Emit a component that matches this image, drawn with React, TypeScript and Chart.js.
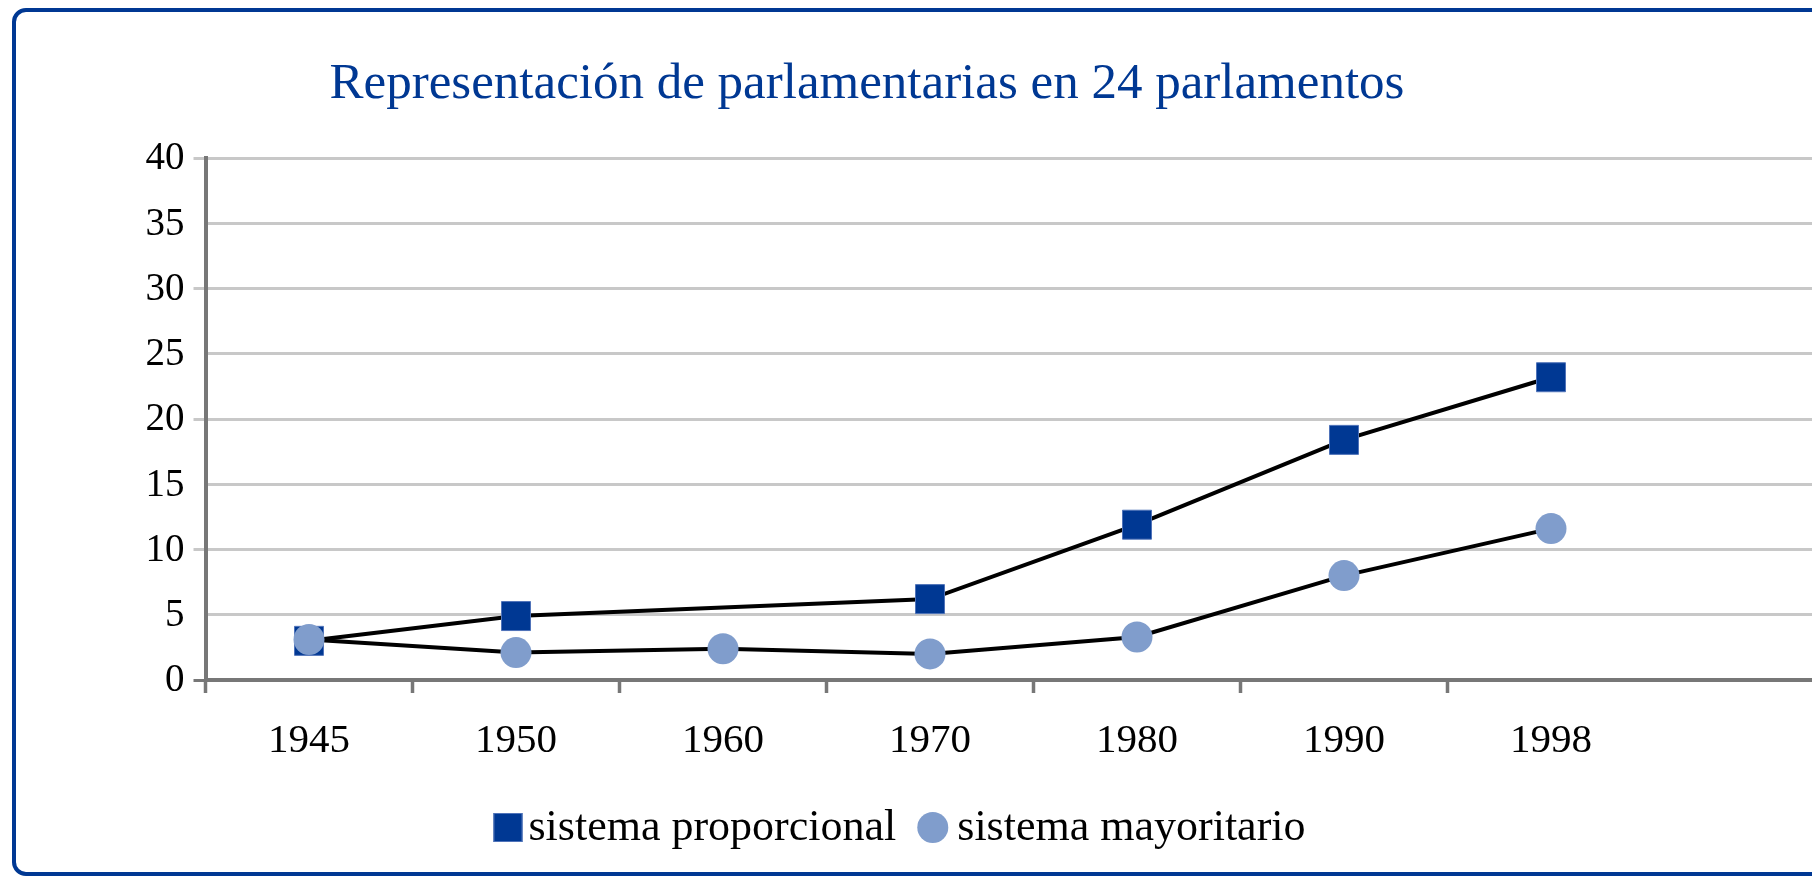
import React, { useEffect, useRef } from 'react';
import { Chart, registerables } from 'chart.js';

Chart.register(...registerables);

const TITLE = 'Representación de parlamentarias en 24 parlamentos';
const YEARS = ['1945', '1950', '1960', '1970', '1980', '1990', '1998', ''];
const PROPORCIONAL = [3.0, 4.9, null, 6.2, 11.9, 18.4, 23.2, null];
const MAYORITARIO = [3.1, 2.1, 2.4, 2.0, 3.3, 8.0, 11.6, null];
const SERIES_NAMES = ['sistema proporcional', 'sistema mayoritario'];
const Y_MIN = 0;
const Y_MAX = 40;
const Y_STEP = 5;

const BLUE = '#003893';
const LIGHT_BLUE = '#809dcc';
const AXIS_GRAY = '#777777';
const GRID_GRAY = '#c8c8c8';
const CANVAS_W = 1950;
const CANVAS_H = 876;

const headerLegend = {
  id: 'headerLegend',
  afterDraw(chart: any) {
    const ctx = chart.ctx as CanvasRenderingContext2D;
    ctx.save();
    // title
    ctx.fillStyle = BLUE;
    ctx.font = '51px "Liberation Serif"';
    ctx.textAlign = 'center';
    ctx.textBaseline = 'alphabetic';
    ctx.fillText(TITLE, 867, 98);

    // legend
    const ds = chart.data.datasets;
    ctx.font = '44px "Liberation Serif"';
    ctx.textAlign = 'left';
    const marker = 29;
    const gaps = [6, 10];
    const gapItem = 22;
    const widths = ds.map((d: any) => ctx.measureText(d.label).width);
    const total =
      widths.reduce((a: number, w: number, i: number) => a + marker + gaps[i] + w, 0) + gapItem * (ds.length - 1);
    let x = 899.5 - total / 2;
    const cy = 827.5;
    const baseline = 840;
    ds.forEach((d: any, i: number) => {
      if (d.pointStyle === 'rect') {
        ctx.fillStyle = d.pointBackgroundColor;
        ctx.fillRect(x, cy - marker / 2, marker, marker);
        ctx.strokeStyle = d.pointBorderColor;
        ctx.lineWidth = 1;
        ctx.strokeRect(x + 0.5, cy - marker / 2 + 0.5, marker - 1, marker - 1);
      } else {
        ctx.fillStyle = d.pointBackgroundColor;
        ctx.beginPath();
        ctx.arc(x + marker / 2, cy, marker / 2 + 1, 0, Math.PI * 2);
        ctx.fill();
      }
      x += marker + gaps[i];
      ctx.fillStyle = '#000';
      ctx.fillText(d.label, x, baseline);
      x += widths[i] + gapItem;
    });
    ctx.restore();
  },
};

export default function App() {
  const ref = useRef<HTMLCanvasElement>(null);

  useEffect(() => {
    const canvas = ref.current;
    if (!canvas) return;
    const chart = new Chart(canvas, {
      type: 'line',
      data: {
        labels: YEARS,
        datasets: [
          {
            label: SERIES_NAMES[0],
            data: PROPORCIONAL,
            borderColor: '#000000',
            borderWidth: 4,
            pointStyle: 'rect',
            pointRadius: 20.5,
            pointHoverRadius: 20.5,
            pointBackgroundColor: BLUE,
            pointBorderColor: '#4f73b9',
            pointBorderWidth: 1,
            spanGaps: true,
            tension: 0,
            fill: false,
            order: 1,
          } as any,
          {
            label: SERIES_NAMES[1],
            data: MAYORITARIO,
            borderColor: '#000000',
            borderWidth: 4,
            pointStyle: 'circle',
            pointRadius: 15.5,
            pointHoverRadius: 15.5,
            pointBackgroundColor: LIGHT_BLUE,
            pointBorderColor: LIGHT_BLUE,
            pointBorderWidth: 0,
            spanGaps: true,
            tension: 0,
            fill: false,
            order: 0,
          } as any,
        ],
      },
      options: {
        responsive: false,
        animation: false,
        devicePixelRatio: 1,
        layout: {
          padding: { top: 158, bottom: CANVAS_H - 680 - 100, left: 0, right: CANVAS_W - 1861.5 },
        },
        plugins: {
          legend: { display: false },
          title: { display: false },
          tooltip: { enabled: false },
        },
        scales: {
          x: {
            type: 'category',
            offset: true,
            grid: {
              display: true,
              drawOnChartArea: false,
              drawTicks: true,
              offset: true,
              tickLength: 13,
              tickWidth: 3.5,
              tickColor: (c: any) => (typeof c.index === 'number' && c.index <= 6 ? AXIS_GRAY : 'rgba(0,0,0,0)'),
            },
            border: { display: true, color: AXIS_GRAY, width: 4 },
            ticks: {
              color: '#000000',
              font: { family: '"Liberation Serif"', size: 41 },
              padding: 24,
              maxRotation: 0,
              autoSkip: false,
            },
            afterFit: (s: any) => {
              s.height = 100;
            },
          },
          y: {
            min: Y_MIN,
            max: Y_MAX,
            ticks: {
              stepSize: Y_STEP,
              color: '#000000',
              font: { family: '"Liberation Serif"', size: 39 },
              padding: 9,
              labelOffset: 1,
            },
            grid: {
              color: GRID_GRAY,
              lineWidth: 3,
              tickLength: 12,
              tickWidth: 3,
              tickColor: (c: any) => {
                const v = c.tick ? c.tick.value : -1;
                if (v === 0) return AXIS_GRAY;
                return v % 10 === 0 ? GRID_GRAY : 'rgba(0,0,0,0)';
              },
            },
            border: { display: true, color: AXIS_GRAY, width: 4 },
            afterFit: (s: any) => {
              s.width = 205.5;
            },
          },
        },
      },
      plugins: [headerLegend],
    });
    return () => chart.destroy();
  }, []);

  return (
    <div
      style={{
        position: 'fixed',
        left: 0,
        top: 0,
        width: 1812,
        height: 876,
        overflow: 'hidden',
        background: '#ffffff',
      }}
    >
      <div
        style={{
          position: 'absolute',
          left: 12,
          top: 8,
          width: 1950,
          height: 868,
          boxSizing: 'border-box',
          border: `4px solid ${BLUE}`,
          borderRadius: 14,
        }}
      />
      <canvas
        ref={ref}
        width={CANVAS_W}
        height={CANVAS_H}
        style={{ position: 'absolute', left: 0, top: 0, width: CANVAS_W, height: CANVAS_H }}
      />
    </div>
  );
}
